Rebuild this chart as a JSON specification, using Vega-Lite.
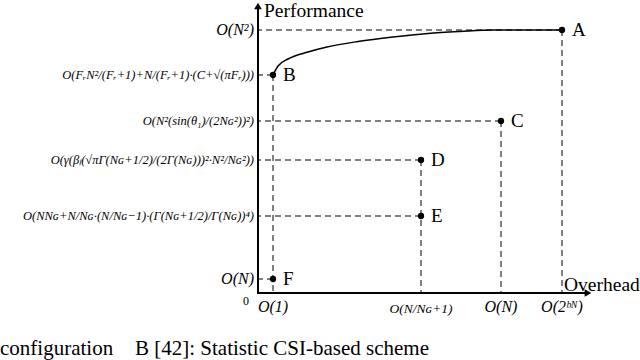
{
  "$schema": "https://vega.github.io/schema/vega-lite/v6.json",
  "width": 335,
  "height": 292,
  "autosize": {"type": "none"},
  "padding": {"left": 258, "top": 1, "right": 47, "bottom": 67},
  "background": "white",
  "config": {"view": {"stroke": null}, "mark": {"font": "Liberation Serif"}, "text": {"font": "Liberation Serif", "color": "black"}},
  "datasets": {
    "points": [
      {"name": "A", "x": 304, "y": 263},
      {"name": "B", "x": 15, "y": 218},
      {"name": "C", "x": 243, "y": 172},
      {"name": "D", "x": 163, "y": 133},
      {"name": "E", "x": 163, "y": 77},
      {"name": "F", "x": 15, "y": 14}
    ],
    "curve": [
      {"x": 15, "y": 218},
      {"x": 20, "y": 227},
      {"x": 30, "y": 234},
      {"x": 50, "y": 241},
      {"x": 69, "y": 246},
      {"x": 100, "y": 251.5},
      {"x": 135, "y": 256},
      {"x": 170, "y": 259.5},
      {"x": 202, "y": 261.5},
      {"x": 235, "y": 263},
      {"x": 304, "y": 263}
    ],
    "ylabels": [
      {"y": 263, "label": "O(N²)"},
      {"y": 218, "label": "O(FᵣN²/(Fᵣ+1)+N/(Fᵣ+1)·(C+√(πFᵣ)))"},
      {"y": 172, "label": "O(N²(sin(θ₁)/(2Nɢ²))²)"},
      {"y": 133, "label": "O(γ(βₗ(√πΓ(Nɢ+1/2)/(2Γ(Nɢ)))²·N²/Nɢ²))"},
      {"y": 77, "label": "O(NNɢ+N/Nɢ·(N/Nɢ−1)·(Γ(Nɢ+1/2)/Γ(Nɢ))⁴)"},
      {"y": 14, "label": "O(N)"}
    ],
    "xlabels": [
      {"x": 15, "label": "O(1)"},
      {"x": 163, "label": "O(N/Nɢ+1)"},
      {"x": 243, "label": "O(N)"},
      {"x": 304, "label": "O(2ᵇᴺ)"}
    ],
    "one": [{"k": 1}]
  },
  "layer": [
    {
      "data": {"name": "points"},
      "mark": {"type": "rule", "strokeDash": [6, 4], "strokeWidth": 1, "color": "black"},
      "encoding": {
        "x": {"field": "x", "type": "quantitative", "scale": {"domain": [0, 335], "nice": false, "zero": false}, "axis": null},
        "x2": {"datum": 0},
        "y": {"field": "y", "type": "quantitative", "scale": {"domain": [0, 292], "nice": false, "zero": false}, "axis": null}
      }
    },
    {
      "data": {"name": "points"},
      "transform": [{"filter": "datum.name != 'E' && datum.name != 'F'"}],
      "mark": {"type": "rule", "strokeDash": [6, 4], "strokeWidth": 1, "color": "black"},
      "encoding": {
        "x": {"field": "x", "type": "quantitative"},
        "y": {"field": "y", "type": "quantitative"},
        "y2": {"datum": 0}
      }
    },
    {
      "data": {"name": "curve"},
      "mark": {"type": "line", "interpolate": "monotone", "color": "black", "strokeWidth": 1.5},
      "encoding": {"x": {"field": "x", "type": "quantitative"}, "y": {"field": "y", "type": "quantitative"}}
    },
    {
      "data": {"name": "one"},
      "mark": {"type": "rule", "color": "black", "strokeWidth": 2},
      "encoding": {"x": {"datum": 0, "type": "quantitative"}, "y": {"datum": 0, "type": "quantitative"}, "y2": {"datum": 286}}
    },
    {
      "data": {"name": "one"},
      "mark": {"type": "rule", "color": "black", "strokeWidth": 2},
      "encoding": {"x": {"datum": -1, "type": "quantitative"}, "x2": {"datum": 328}, "y": {"datum": 0, "type": "quantitative"}}
    },
    {
      "data": {"name": "one"},
      "mark": {"type": "point", "shape": "triangle-up", "filled": true, "color": "black", "size": 60, "opacity": 1},
      "encoding": {"x": {"datum": 0, "type": "quantitative"}, "y": {"datum": 287, "type": "quantitative"}}
    },
    {
      "data": {"name": "one"},
      "mark": {"type": "point", "shape": "triangle-right", "filled": true, "color": "black", "size": 60, "opacity": 1},
      "encoding": {"x": {"datum": 330, "type": "quantitative"}, "y": {"datum": 0, "type": "quantitative"}}
    },
    {
      "data": {"name": "points"},
      "mark": {"type": "point", "filled": true, "color": "black", "size": 40, "opacity": 1},
      "encoding": {"x": {"field": "x", "type": "quantitative"}, "y": {"field": "y", "type": "quantitative"}}
    },
    {
      "data": {"name": "points"},
      "mark": {"type": "text", "font": "Liberation Serif", "align": "left", "baseline": "middle", "dx": 10, "fontSize": 19},
      "encoding": {"x": {"field": "x", "type": "quantitative"}, "y": {"field": "y", "type": "quantitative"}, "text": {"field": "name"}}
    },
    {
      "data": {"name": "ylabels"},
      "transform": [{"filter": "length(datum.label) < 8"}],
      "mark": {"type": "text", "font": "Liberation Serif", "align": "right", "baseline": "middle", "fontStyle": "italic", "fontSize": 16},
      "encoding": {"x": {"datum": -4, "type": "quantitative"}, "y": {"field": "y", "type": "quantitative"}, "text": {"field": "label"}}
    },
    {
      "data": {"name": "ylabels"},
      "transform": [{"filter": "length(datum.label) >= 8"}],
      "mark": {"type": "text", "font": "Liberation Serif", "align": "right", "baseline": "middle", "fontStyle": "italic", "fontSize": 12.5},
      "encoding": {"x": {"datum": -4, "type": "quantitative"}, "y": {"field": "y", "type": "quantitative"}, "text": {"field": "label"}}
    },
    {
      "data": {"name": "xlabels"},
      "transform": [{"filter": "length(datum.label) < 8"}],
      "mark": {"type": "text", "font": "Liberation Serif", "align": "center", "baseline": "middle", "fontStyle": "italic", "fontSize": 16},
      "encoding": {"x": {"field": "x", "type": "quantitative"}, "y": {"datum": -14, "type": "quantitative"}, "text": {"field": "label"}}
    },
    {
      "data": {"name": "xlabels"},
      "transform": [{"filter": "length(datum.label) >= 8"}],
      "mark": {"type": "text", "font": "Liberation Serif", "align": "center", "baseline": "middle", "fontStyle": "italic", "fontSize": 13.5},
      "encoding": {"x": {"field": "x", "type": "quantitative"}, "y": {"datum": -16, "type": "quantitative"}, "text": {"field": "label"}}
    },
    {
      "data": {"name": "one"},
      "mark": {"type": "text", "font": "Liberation Serif", "align": "left", "baseline": "middle", "fontSize": 19.5, "text": "Performance"},
      "encoding": {"x": {"datum": 6, "type": "quantitative"}, "y": {"datum": 282, "type": "quantitative"}}
    },
    {
      "data": {"name": "one"},
      "mark": {"type": "text", "font": "Liberation Serif", "align": "left", "baseline": "middle", "fontSize": 19.5, "text": "Overhead"},
      "encoding": {"x": {"datum": 306, "type": "quantitative"}, "y": {"datum": 8, "type": "quantitative"}}
    },
    {
      "data": {"name": "one"},
      "mark": {"type": "text", "font": "Liberation Serif", "align": "center", "baseline": "middle", "fontSize": 12, "text": "0"},
      "encoding": {"x": {"datum": -12, "type": "quantitative"}, "y": {"datum": -8, "type": "quantitative"}}
    },
    {
      "data": {"name": "one"},
      "mark": {"type": "text", "font": "Liberation Serif", "align": "left", "baseline": "middle", "fontSize": 21, "text": "configuration"},
      "encoding": {"x": {"datum": -258, "type": "quantitative"}, "y": {"datum": -56, "type": "quantitative"}}
    },
    {
      "data": {"name": "one"},
      "mark": {"type": "text", "font": "Liberation Serif", "align": "left", "baseline": "middle", "fontSize": 21, "text": "B [42]: Statistic CSI-based scheme"},
      "encoding": {"x": {"datum": -123, "type": "quantitative"}, "y": {"datum": -56, "type": "quantitative"}}
    }
  ]
}
